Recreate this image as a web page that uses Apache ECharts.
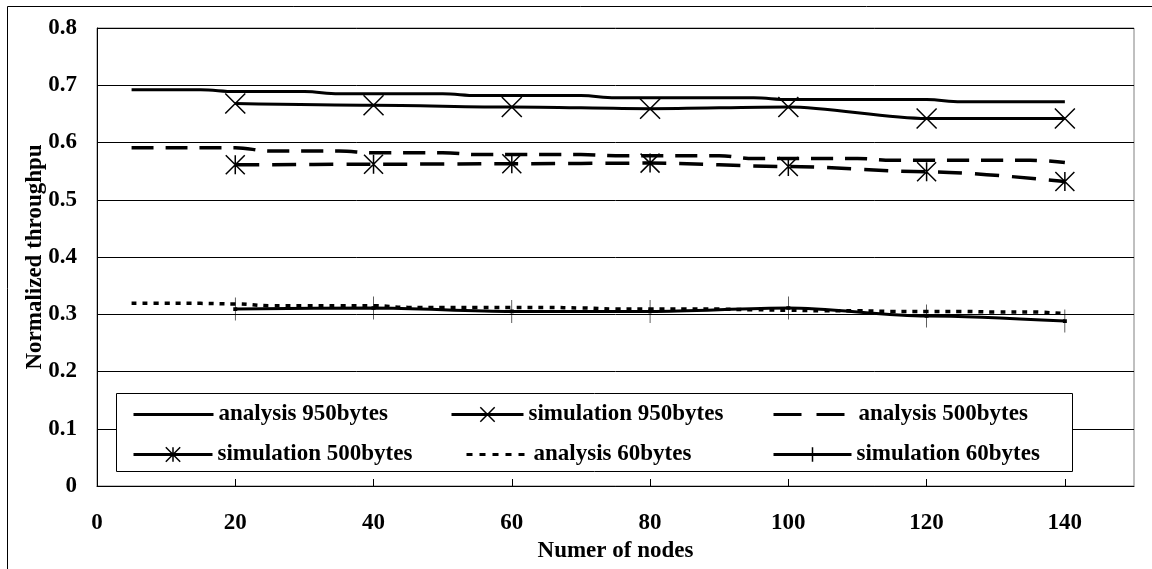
<!DOCTYPE html>
<html>
<head>
<meta charset="utf-8">
<script src="https://cdn.jsdelivr.net/npm/echarts@6/dist/echarts.min.js"></script>
<style>
  html, body { margin: 0; padding: 0; background: #fff; }
  #chart { width: 1152px; height: 569px; }
</style>
</head>
<body>
<div id="chart"></div>
<script>
// analysis curves are sampled every 5 nodes
const analysisNodes = [5, 10, 15, 20, 25, 30, 35, 40, 45, 50, 55, 60, 65, 70, 75, 80, 85, 90, 95, 100, 105, 110, 115, 120, 125, 130, 135, 140];
const analysis950 = [0.692, 0.692, 0.692, 0.689, 0.689, 0.689, 0.685, 0.685, 0.685, 0.685, 0.682, 0.682, 0.682, 0.682, 0.678, 0.678, 0.678, 0.678, 0.678, 0.675, 0.675, 0.675, 0.675, 0.675, 0.671, 0.671, 0.671, 0.671];
const analysis500 = [0.591, 0.591, 0.591, 0.591, 0.585, 0.585, 0.585, 0.582, 0.582, 0.582, 0.579, 0.579, 0.579, 0.579, 0.577, 0.577, 0.577, 0.577, 0.572, 0.572, 0.572, 0.572, 0.569, 0.569, 0.569, 0.569, 0.569, 0.565];
const analysis60 = [0.319, 0.319, 0.319, 0.318, 0.315, 0.315, 0.315, 0.315, 0.312, 0.312, 0.312, 0.312, 0.312, 0.311, 0.309, 0.309, 0.309, 0.309, 0.308, 0.307, 0.306, 0.306, 0.305, 0.305, 0.305, 0.304, 0.304, 0.301];

// simulation points
const simNodes = [20, 40, 60, 80, 100, 120, 140];
const sim950 = [0.668, 0.665, 0.662, 0.659, 0.662, 0.642, 0.642];
const sim500 = [0.561, 0.562, 0.563, 0.564, 0.558, 0.549, 0.532];
const sim60 = [0.309, 0.311, 0.305, 0.305, 0.311, 0.297, 0.288];

const seriesNames = ["analysis 950bytes", "simulation 950bytes", "analysis 500bytes",
  "simulation 500bytes", "analysis 60bytes", "simulation 60bytes"];

const FONT = "Liberation Serif";
const pairs = (xs, ys) => xs.map((x, i) => [x, ys[i]]);

const crossPath = "path://M0,0L10,10M10,0L0,10";
const starPath = "path://M0,0L10,10M10,0L0,10M5,0L5,10";
const barPath = "path://M5,0L5,10M4,5L6,5";

const markStyle = { color: "#000", borderColor: "#000", borderWidth: 1.5 };
const noMark = { color: "transparent", borderColor: "transparent", borderWidth: 0 };

let chart = echarts.init(document.getElementById("chart"));

function legendAt(name, left, top, width, dash, marked) {
  return {
    data: [name],
    left: left,
    top: top,
    padding: 0,
    itemWidth: width,
    itemHeight: 18,
    selectedMode: false,
    itemStyle: marked ? { color: "#000", borderColor: "#000", borderWidth: 1.5 } : noMark,
    lineStyle: { color: "#000", width: 3, type: dash },
    textStyle: { fontFamily: FONT, fontWeight: "bold", fontSize: 23, color: "#000" }
  };
}

let option = {
  animation: false,
  backgroundColor: "#fff",
  grid: {
    left: 97,
    right: 18,
    top: 28,
    bottom: 83,
    show: true,
    borderColor: "#808080",
    borderWidth: 1
  },
  graphic: [
    {
      // outer frame (right and bottom sides fall outside the picture)
      type: "rect",
      shape: { x: 7.5, y: 6.5, width: 1200, height: 600 },
      style: { fill: null, stroke: "#000", lineWidth: 1 },
      z: 0
    },
    {
      // legend box
      type: "rect",
      shape: { x: 116.5, y: 393.5, width: 956, height: 78 },
      style: { fill: "#fff", stroke: "#000", lineWidth: 1 },
      z: 3
    }
  ],
  legend: [
    legendAt(seriesNames[0], 132, 403, 80, "solid", false),
    legendAt(seriesNames[1], 450, 403, 72, "solid", true),
    legendAt(seriesNames[2], 772, 403, 80, [28, 15], false),
    legendAt(seriesNames[3], 132, 443, 79, "solid", true),
    legendAt(seriesNames[4], 465, 443, 62, [6, 7], false),
    legendAt(seriesNames[5], 772, 443, 78, "solid", true)
  ],
  xAxis: {
    type: "value",
    min: 0,
    max: 150,
    interval: 20,
    name: "Numer of nodes",
    nameLocation: "middle",
    nameGap: 53,
    nameTextStyle: { fontFamily: FONT, fontWeight: "bold", fontSize: 23, color: "#000" },
    axisLine: { show: true, lineStyle: { color: "#000", width: 1 } },
    axisTick: { show: true, inside: true, length: 7, lineStyle: { color: "#000" } },
    axisLabel: {
      showMaxLabel: false,
      margin: 26,
      fontFamily: FONT, fontWeight: "bold", fontSize: 23, color: "#000"
    },
    splitLine: { show: false }
  },
  yAxis: {
    type: "value",
    min: 0,
    max: 0.8,
    interval: 0.1,
    name: "Normalized throughpu",
    nameLocation: "middle",
    nameGap: 50,
    nameMoveOverlap: false,
    nameTextStyle: { fontFamily: FONT, fontWeight: "bold", fontSize: 23, color: "#000" },
    axisLine: { show: true, lineStyle: { color: "#000", width: 1 } },
    axisTick: { show: false },
    axisLabel: {
      margin: 20,
      fontFamily: FONT, fontWeight: "bold", fontSize: 23, color: "#000"
    },
    splitLine: { show: true, lineStyle: { color: "#000", width: 1 } }
  },
  series: [
    {
      name: seriesNames[0],
      type: "line",
      data: pairs(analysisNodes, analysis950),
      symbol: "none",
      smooth: 0.4,
      smoothMonotone: "x",
      lineStyle: { color: "#000", width: 3 },
      itemStyle: { color: "#000" }
    },
    {
      name: seriesNames[1],
      type: "line",
      data: pairs(simNodes, sim950),
      symbol: crossPath,
      symbolSize: 20,
      smooth: 0.3,
      smoothMonotone: "x",
      lineStyle: { color: "#000", width: 3 },
      itemStyle: markStyle
    },
    {
      name: seriesNames[2],
      type: "line",
      data: pairs(analysisNodes, analysis500),
      symbol: "none",
      smooth: 0.4,
      smoothMonotone: "x",
      lineStyle: { color: "#000", width: 3.5, type: [22, 12] },
      itemStyle: { color: "#000" }
    },
    {
      name: seriesNames[3],
      type: "line",
      data: pairs(simNodes, sim500),
      symbol: starPath,
      symbolSize: 19,
      smooth: 0.3,
      smoothMonotone: "x",
      lineStyle: { color: "#000", width: 3.5, type: [24, 13] },
      itemStyle: markStyle
    },
    {
      name: seriesNames[4],
      type: "line",
      data: pairs(analysisNodes, analysis60),
      symbol: "none",
      smooth: 0.4,
      smoothMonotone: "x",
      lineStyle: { color: "#000", width: 3.5, type: [5, 6] },
      itemStyle: { color: "#000" }
    },
    {
      name: seriesNames[5],
      type: "line",
      data: pairs(simNodes, sim60),
      symbol: barPath,
      symbolSize: [4, 23],
      smooth: 0.3,
      smoothMonotone: "x",
      lineStyle: { color: "#000", width: 3 },
      itemStyle: markStyle
    }
  ]
};

chart.setOption(option);
</script>
</body>
</html>
